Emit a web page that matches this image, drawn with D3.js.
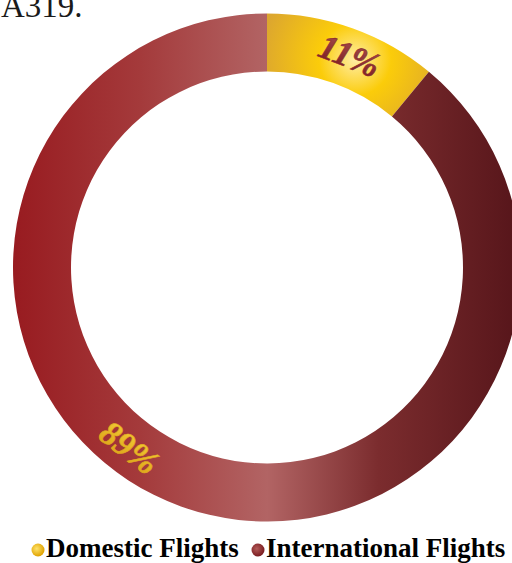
<!DOCTYPE html>
<html>
<head>
<meta charset="utf-8">
<script src="https://cdn.jsdelivr.net/npm/d3@7"></script>
<style>
  html, body { margin: 0; padding: 0; background: #fff; }
  svg { display: block; }
</style>
</head>
<body>
<div class="canvas"></div>
<script>
// chart data
const categories = ['Domestic Flights', 'International Flights'];
const shares = [11, 89];
const labels = ['11%', '89%'];
const title = 'A319.';

const width = 512, height = 563;
const cx = 267, cy = 267.5;
const outerR = 254, innerR = 196;

const svg = d3.select('.canvas')
  .append('svg')
    .attr('width', width)
    .attr('height', height);

const defs = svg.append('defs');

// gold radial gradient for the domestic slice (coords are local to the donut group)
const gold = defs.append('radialGradient')
  .attr('id', 'gold')
  .attr('gradientUnits', 'userSpaceOnUse')
  .attr('cx', 88).attr('cy', -208).attr('r', 95);
gold.append('stop').attr('offset', '0%').attr('stop-color', '#ffeda4');
gold.append('stop').attr('offset', '38%').attr('stop-color', '#fbcc0a');
gold.append('stop').attr('offset', '100%').attr('stop-color', '#dca62f');

// horizontal red gradient for the international slice
const red = defs.append('linearGradient')
  .attr('id', 'red')
  .attr('gradientUnits', 'userSpaceOnUse')
  .attr('x1', -outerR).attr('y1', 0)
  .attr('x2', outerR).attr('y2', 0);
red.append('stop').attr('offset', '0%').attr('stop-color', '#981b20');
red.append('stop').attr('offset', '25%').attr('stop-color', '#a43a3b');
red.append('stop').attr('offset', '50%').attr('stop-color', '#b26464');
red.append('stop').attr('offset', '72%').attr('stop-color', '#7b2c2e');
red.append('stop').attr('offset', '100%').attr('stop-color', '#56151a');

// label text gradients
const redText = defs.append('linearGradient')
  .attr('id', 'redText').attr('x1', 0).attr('y1', 0).attr('x2', 0).attr('y2', 1);
redText.append('stop').attr('offset', '0%').attr('stop-color', '#a54e50');
redText.append('stop').attr('offset', '100%').attr('stop-color', '#7a1a1d');

const goldText = defs.append('linearGradient')
  .attr('id', 'goldText').attr('x1', 0).attr('y1', 0).attr('x2', 0).attr('y2', 1);
goldText.append('stop').attr('offset', '0%').attr('stop-color', '#f6cf3a');
goldText.append('stop').attr('offset', '100%').attr('stop-color', '#d99e14');

// legend marker gradients
const goldDot = defs.append('radialGradient').attr('id', 'goldDot')
  .attr('cx', '40%').attr('cy', '40%').attr('r', '60%');
goldDot.append('stop').attr('offset', '0%').attr('stop-color', '#ffe36a');
goldDot.append('stop').attr('offset', '100%').attr('stop-color', '#e0a200');

const redDot = defs.append('radialGradient').attr('id', 'redDot')
  .attr('cx', '40%').attr('cy', '40%').attr('r', '60%');
redDot.append('stop').attr('offset', '0%').attr('stop-color', '#b25a58');
redDot.append('stop').attr('offset', '100%').attr('stop-color', '#7a1c20');

const sliceFills = ['url(#gold)', 'url(#red)'];
const textFills = ['url(#redText)', 'url(#goldText)'];
const textStrokes = ['#8a2a2c', '#e0ad1e'];
const dotFills = ['url(#goldDot)', 'url(#redDot)'];
// the big slice's label sits further round the ring than its middle
const labelShift = [1.5, 17.6];

const color = d3.scaleOrdinal().domain(categories).range(sliceFills);

const pie = d3.pie()
  .sort(null)
  .value(d => d);

const arc = d3.arc()
  .innerRadius(innerR)
  .outerRadius(outerR);

const arcs = pie(shares);

const graph = svg.append('g')
  .attr('transform', `translate(${cx}, ${cy})`);

graph.selectAll('path')
  .data(arcs)
  .enter()
  .append('path')
    .attr('d', arc)
    .attr('fill', (d, i) => color(categories[i]));

// percentage labels, rotated along the ring
const labelR = 227;
graph.selectAll('text.pct')
  .data(arcs)
  .enter()
  .append('text')
    .attr('class', 'pct')
    .attr('transform', (d, i) => {
      const deg = (d.startAngle + d.endAngle) / 2 * 180 / Math.PI + labelShift[i];
      const a = deg * Math.PI / 180;
      const x = labelR * Math.sin(a);
      const y = -labelR * Math.cos(a);
      const rot = deg > 90 && deg < 270 ? deg - 180 : deg;
      return `translate(${x}, ${y}) rotate(${rot})`;
    })
    .attr('text-anchor', 'middle')
    .attr('dominant-baseline', 'central')
    .attr('font-family', '"Liberation Serif", "Times New Roman", serif')
    .attr('font-weight', 'bold')
    .attr('font-style', 'italic')
    .attr('font-size', 35)
    .attr('fill', (d, i) => textFills[i])
    .attr('stroke', (d, i) => textStrokes[i])
    .attr('stroke-width', 0.6)
    .text((d, i) => labels[i]);

// title, partly cut by the top edge as in the source
svg.append('text')
  .attr('x', 1)
  .attr('y', 17)
  .attr('font-family', '"Liberation Serif", "Times New Roman", serif')
  .attr('font-size', 33)
  .attr('fill', '#1a1a1a')
  .text(title);

// legend
const legendX = [38, 258];
const legend = svg.append('g');
legend.selectAll('circle')
  .data(categories)
  .enter()
  .append('circle')
    .attr('cx', (d, i) => legendX[i])
    .attr('cy', 550)
    .attr('r', 6.5)
    .attr('fill', (d, i) => dotFills[i]);

legend.selectAll('text')
  .data(categories)
  .enter()
  .append('text')
    .attr('x', (d, i) => legendX[i] + 8)
    .attr('y', 557)
    .attr('font-family', '"Liberation Serif", "Times New Roman", serif')
    .attr('font-weight', 'bold')
    .attr('font-size', 27)
    .attr('fill', '#000')
    .text(d => d);
</script>
</body>
</html>
